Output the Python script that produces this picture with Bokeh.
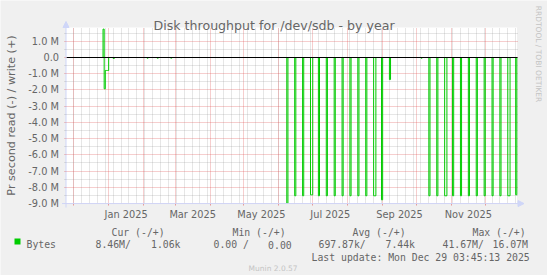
import numpy as np
import pandas as pd
from bokeh.plotting import figure
from bokeh.models import (Range1d, FixedTicker, Label, Arrow, NormalHead,
                          BoxAnnotation, Grid)
from bokeh.embed import file_html
from bokeh.resources import INLINE

# ---------------- data ----------------
last_update = "2025-12-29 03:45:13"
graph_days = 400

read_dates = ["2024-12-28", "2024-12-29", "2024-12-30", "2024-12-31", "2025-01-05",
              "2025-02-04", "2025-02-13", "2025-02-25",
              "2025-06-08", "2025-06-15", "2025-06-22", "2025-06-29", "2025-06-30",
              "2025-07-06", "2025-07-13", "2025-07-20", "2025-07-27",
              "2025-08-03", "2025-08-10", "2025-08-17", "2025-08-24", "2025-08-25",
              "2025-08-31", "2025-09-07", "2025-10-05",
              "2025-10-12", "2025-10-19", "2025-10-26", "2025-10-27",
              "2025-11-02", "2025-11-09", "2025-11-16", "2025-11-23", "2025-11-30",
              "2025-12-07", "2025-12-14", "2025-12-21", "2025-12-22", "2025-12-28"]
read_values = [1.93e6, 0.80e6, 0.80e6, 0.80e6, 0.06e6,
               0.04e6, 0.04e6, 0.04e6,
               8.99e6, 8.52e6, 8.52e6, 8.46e6, 8.46e6,
               8.52e6, 8.52e6, 8.52e6, 8.52e6,
               8.52e6, 8.52e6, 8.52e6, 8.52e6, 8.52e6,
               8.77e6, 1.36e6, 0.04e6,
               8.52e6, 8.52e6, 8.52e6, 8.52e6,
               8.52e6, 8.52e6, 8.52e6, 8.52e6, 8.52e6,
               8.52e6, 8.52e6, 8.52e6, 8.52e6, 8.46e6]
write_dates = ["2024-12-27"]
write_values = [1.75e6]

x_tick_labels = ["Jan 2025", "Mar 2025", "May 2025", "Jul 2025", "Sep 2025", "Nov 2025"]
y_tick_values = [1e6, 0.0, -1e6, -2e6, -3e6, -4e6, -5e6, -6e6, -7e6, -8e6, -9e6]
y_tick_labels = ["1.0 M", "0.0", "-1.0 M", "-2.0 M", "-3.0 M", "-4.0 M", "-5.0 M",
                 "-6.0 M", "-7.0 M", "-8.0 M", "-9.0 M"]

title_text = "Disk throughput for /dev/sdb - by year"
ylabel_text = "Pr second read (-) / write (+)"
legend_name = "Bytes"
legend_headers = ["Cur (-/+)", "Min (-/+)", "Avg (-/+)", "Max (-/+)"]
legend_values = ["8.46M/", "1.06k", "0.00 /", "0.00", "697.87k/", "7.44k", "41.67M/", "16.07M"]
last_update_text = "Last update: Mon Dec 29 03:45:13 2025"
version_text = "Munin 2.0.57"
watermark_text = "RRDTOOL / TOBI OETIKER"

# ---------------- layout constants (pixels of the 547x275 picture) ----------------
W, H = 547, 275
PLOT_LEFT, PLOT_W = 65.5, 451.0      # plot area left edge / width
ZERO_Y, PX_PER_M = 57.0, 16.23       # pixel row of 0.0 and pixels per 1 M
PLOT_TOP = 27.0
Y_MIN = -9.0e6


def ms(ts):
    return pd.Timestamp(ts).value / 1e6


end = pd.Timestamp(last_update)
start = end - pd.Timedelta(days=graph_days)
t_start, t_end = ms(start), ms(end)
ms_per_px = (t_end - t_start) / PLOT_W
y_per_px = 1e6 / PX_PER_M
y_top = (ZERO_Y - PLOT_TOP) * y_per_px

# ranges chosen so that the whole canvas is the frame and the plot area lands where it does
x_range = Range1d(t_start - PLOT_LEFT * ms_per_px, t_start + (W - PLOT_LEFT) * ms_per_px)
y_range = Range1d(-(H - ZERO_Y) * y_per_px, ZERO_Y * y_per_px)

# ---------------- build series ----------------
days = pd.date_range(start.normalize() + pd.Timedelta(days=1), end.normalize(), freq="D")
read = pd.Series(0.0, index=days)
read[pd.to_datetime(read_dates)] = -np.array(read_values)
write = pd.Series(0.0, index=days)
write[pd.to_datetime(write_dates)] = np.array(write_values)
xs = np.array([ms(d) for d in days])

# ---------------- figure ----------------
GREEN = "#00CC00"
FONT = "#666666"
AXIS = "#CFD6F8"
MGRID = "#DE4F4F"
GRID = "#8F8F8F"
BACK = "#F0F0F0"

p = figure(width=W, height=H, output_backend="svg", toolbar_location=None,
           x_range=x_range, y_range=y_range,
           min_border=0, min_border_left=0, min_border_right=0,
           min_border_top=0, min_border_bottom=0)
p.background_fill_color = BACK
p.border_fill_color = BACK
p.outline_line_color = None

# white canvas of the graph
p.add_layout(BoxAnnotation(left=t_start, right=t_end, bottom=Y_MIN, top=y_top,
                           fill_color="white", fill_alpha=1.0, line_color=None,
                           level="image"))

# ticks
month_starts = [d for d in pd.date_range(start.normalize(), end, freq="MS") if d > start]
sundays = [d for d in pd.date_range(start.normalize(), end, freq="W-SUN") if d > start]
label_pos = []
for lab in x_tick_labels:
    m0 = pd.to_datetime(lab, format="%b %Y")
    m1 = m0 + pd.offsets.MonthBegin(1)
    label_pos.append(ms(m0) + (ms(m1) - ms(m0)) / 2)
y_minor = [v + 0.5e6 for v in y_tick_values]

xa = p.xaxis[0]
xa.fixed_location = Y_MIN
xa.bounds = (t_start, t_end)
xa.ticker = FixedTicker(ticks=label_pos, minor_ticks=[ms(d) for d in month_starts])
xa.major_label_overrides = {t: l for t, l in zip(label_pos, x_tick_labels)}
xa.major_tick_line_color = None
xa.major_tick_out = 0
xa.major_tick_in = 0
xa.minor_tick_line_color = MGRID
xa.minor_tick_line_alpha = 0.55
xa.minor_tick_out = 2
xa.minor_tick_in = 0
xa.major_label_standoff = 3

ya = p.yaxis[0]
ya.fixed_location = t_start
ya.bounds = (Y_MIN, y_top)
ya.ticker = FixedTicker(ticks=y_tick_values, minor_ticks=y_minor)
ya.major_label_overrides = {v: l for v, l in zip(y_tick_values, y_tick_labels)}
ya.major_tick_line_color = MGRID
ya.major_tick_line_alpha = 0.55
ya.major_tick_out = 2
ya.major_tick_in = 0
ya.minor_tick_line_color = GRID
ya.minor_tick_line_alpha = 0.45
ya.minor_tick_out = 2
ya.minor_tick_in = 0
ya.major_label_standoff = 5

for ax in (xa, ya):
    ax.axis_line_color = None
    ax.major_label_text_font = "DejaVu Sans"
    ax.major_label_text_font_size = "9.8px"
    ax.major_label_text_color = FONT

# grids, limited to the graph canvas
xg, yg = p.xgrid[0], p.ygrid[0]
xg.ticker = FixedTicker(ticks=[ms(d) for d in month_starts],
                        minor_ticks=[ms(d) for d in sundays])
xg.bounds = (t_start, t_end)
xg.cross_bounds = (Y_MIN, y_top)
yg.ticker = FixedTicker(ticks=y_tick_values, minor_ticks=y_minor)
yg.bounds = (Y_MIN, y_top)
yg.cross_bounds = (t_start, t_end)
for g in (xg, yg):
    g.grid_line_color = MGRID
    g.grid_line_alpha = 0.55
    g.grid_line_dash = "1 1"
    g.minor_grid_line_color = GRID
    g.minor_grid_line_alpha = 0.45
    g.minor_grid_line_dash = "1 1"

# data lines
p.step(xs, read.values, mode="after", line_color=GREEN, line_width=1)
p.step(xs, write.values, mode="after", line_color=GREEN, line_width=1)

# black zero rule drawn over the data
p.add_layout(Grid(dimension=1, ticker=FixedTicker(ticks=[0.0]), bounds=(Y_MIN, y_top),
                  cross_bounds=(t_start, t_end), grid_line_color="black",
                  grid_line_width=1, level="annotation"))

# ---------------- texts / decorations (screen px, y measured from bottom) ----------------
def txt(x, y, text, size, color=FONT, font="DejaVu Sans", align="left",
        baseline="alphabetic", angle=0.0):
    p.add_layout(Label(x=x, y=H - y, x_units="screen", y_units="screen",
                       text=text, text_font=font, text_font_size=size,
                       text_color=color, text_align=align, text_baseline=baseline,
                       angle=angle))


axis_y = H - (ZERO_Y + 9 * PX_PER_M)
p.add_layout(Arrow(x_start=PLOT_LEFT - 4, y_start=axis_y, x_end=PLOT_LEFT + PLOT_W + 7,
                   y_end=axis_y, start_units="screen", end_units="screen",
                   line_color=AXIS, line_width=1,
                   end=NormalHead(size=6, fill_color=AXIS, line_color=AXIS)))
p.add_layout(Arrow(x_start=PLOT_LEFT, y_start=axis_y - 4, x_end=PLOT_LEFT,
                   y_end=H - 21, start_units="screen", end_units="screen",
                   line_color=AXIS, line_width=1,
                   end=NormalHead(size=6, fill_color=AXIS, line_color=AXIS)))

txt(273.6, 25, title_text, "12.6px", align="center")
txt(11, 115, ylabel_text, "11.2px", align="center", baseline="middle", angle=np.pi / 2)
txt(537.5, 53.5, watermark_text, "7.5px", color="#C4C4C4", align="center",
    baseline="middle", angle=-np.pi / 2)

MONO = "DejaVu Sans Mono"
header_x = [111, 232, 352, 472]
for hx, h in zip(header_x, legend_headers):
    txt(hx, 231.5, h, "9.8px", font=MONO)
value_x = [95, 150.5, 213, 267.6, 318, 385, 442, 492]
for vx, v in zip(value_x, legend_values):
    txt(vx, 244.4, v, "9.8px", font=MONO)
txt(26, 244.4, legend_name, "9.8px", font=MONO)
txt(311, 256.9, last_update_text, "9.8px", font=MONO)
txt(272.6, 268, version_text, "7.5px", color="#C4C4C4", align="center")

p.add_layout(BoxAnnotation(left=14, right=20, top=H - 238, bottom=H - 244,
                           left_units="screen", right_units="screen",
                           top_units="screen", bottom_units="screen",
                           fill_color=GREEN, fill_alpha=1.0, line_color=None))

open("out.html", "w").write(file_html(p, INLINE))
